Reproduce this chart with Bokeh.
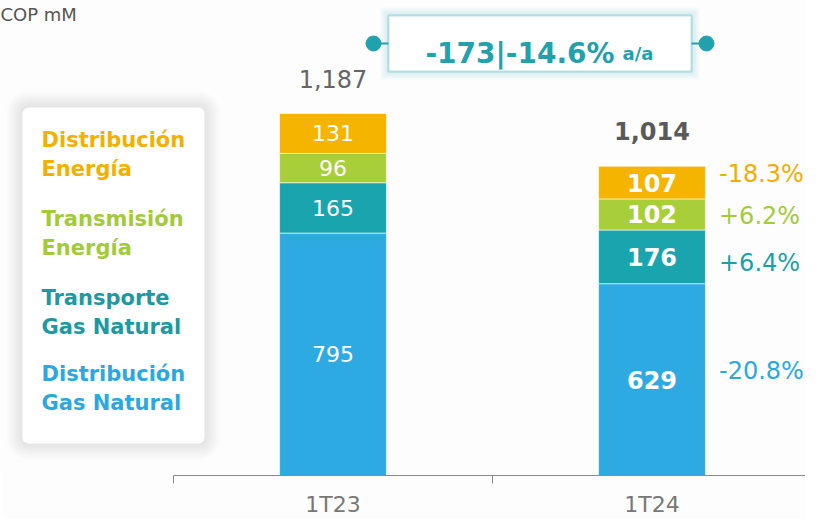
from bokeh.plotting import figure
from bokeh.models import ColumnDataSource, Range1d, FixedTicker, BoxAnnotation
from bokeh.core.properties import value
from bokeh.embed import file_html
from bokeh.resources import INLINE

# ---------------- data ----------------
periods = ["1T23", "1T24"]
# stacking order: bottom -> top
series_keys = ["dist_gas", "transp_gas", "trans_energia", "dist_energia"]
series_labels = ["Distribución\nGas Natural", "Transporte\nGas Natural",
                 "Transmisión\nEnergía", "Distribución\nEnergía"]
dist_gas = [795, 629]
transp_gas = [165, 176]
trans_energia = [96, 102]
dist_energia = [131, 107]
pct_change = ["-20.8%", "+6.4%", "+6.2%", "-18.3%"]   # 1T24 vs 1T23, per series
unit_label = "COP mM"
yoy_suffix = "a/a"

# ---------------- styles ----------------
bar_colors = ["#2EAAE2", "#1AA4AE", "#A8CF39", "#F5B400"]
legend_colors = ["#2BA8DF", "#1E98A1", "#A3CB38", "#F2B000"]
pct_colors = ["#2BA8DF", "#1BA0A9", "#A3CB38", "#F2AE00"]
TEAL = "#21A1AB"
FONT = value("DejaVu Sans")
BAR_W = 0.335

W, FH = 805, 475            # figure width, frame height (px)
# pixel <-> data helpers for decorations (figure pixel coordinates)
X0, PXX = 173.0, 319.0      # x=0 at px 173, 319 px per category
Y0, PXY = 475.0, 0.30497    # y=0 at px 475
def dx(px): return (px - X0) / PXX
def dy(py): return (Y0 - py) / PXY

data = dict(dist_gas=dist_gas, transp_gas=transp_gas,
            trans_energia=trans_energia, dist_energia=dist_energia)
x_pos = [i + 0.5 for i in range(len(periods))]
src = ColumnDataSource(dict(x=x_pos, **data))

p = figure(frame_width=W, frame_height=FH,
           x_range=Range1d(dx(0), dx(W)), y_range=Range1d(0, dy(0)),
           output_backend="svg", toolbar_location=None, y_axis_location=None,
           min_border=0, min_border_bottom=36,
           background_fill_color="#FDFDFD", border_fill_color="#FDFDFD",
           outline_line_color=None)
p.xgrid.visible = False
p.ygrid.visible = False

# ---------------- bars ----------------
p.vbar_stack(series_keys, x="x", width=BAR_W, color=bar_colors, source=src,
             line_color="white", line_alpha=0.6, line_width=1)

# segment labels
totals = [sum(data[k][i] for k in series_keys) for i in range(len(periods))]
mids = []
for i in range(len(periods)):
    cum = 0
    m = []
    for k in series_keys:
        v = data[k][i]
        m.append(cum + v / 2)
        cum += v
    mids.append(m)

for i, (fs, style) in enumerate([("22px", "normal"), ("24px", "bold")]):
    p.text(x=[x_pos[i]] * len(series_keys), y=mids[i],
           text=[str(data[k][i]) for k in series_keys],
           text_align="center", text_baseline="middle", text_color="white",
           text_font=FONT, text_font_size=fs, text_font_style=style)

# totals
for i, (style, col) in enumerate([("normal", "#666666"), ("bold", "#5A5A5A")]):
    p.text(x=[x_pos[i]], y=[totals[i]], text=[f"{totals[i]:,}"], y_offset=-35,
           text_align="center", text_baseline="middle", text_color=col,
           text_font=FONT, text_font_size="24px", text_font_style=style)

# percentage changes to the right of last bar
pct_offsets = [-9, 6, 1.5, -9]
pct_src = ColumnDataSource(dict(x=[x_pos[-1]] * len(series_keys), y=mids[-1],
                                t=pct_change, c=pct_colors, yo=pct_offsets))
p.text(x="x", y="y", text="t", source=pct_src, text_color="c", x_offset=67,
       y_offset="yo", text_align="left", text_baseline="middle",
       text_font=FONT, text_font_size="24px")

# ---------------- axis ----------------
ax = p.xaxis[0]
ax.ticker = FixedTicker(ticks=x_pos, minor_ticks=list(range(len(periods) + 1)))
ax.major_label_overrides = {x: lab for x, lab in zip(x_pos, periods)}
ax.bounds = (0, len(periods))
ax.axis_line_color = "#8A8A8A"
ax.minor_tick_line_color = "#8A8A8A"
ax.minor_tick_out = 8
ax.minor_tick_in = 0
ax.major_tick_line_color = None
ax.major_tick_out = 0
ax.major_tick_in = 0
ax.major_label_standoff = 8
ax.major_label_text_font = "DejaVu Sans"
ax.major_label_text_font_size = "22px"
ax.major_label_text_color = "#777777"

# ---------------- legend box ----------------
L, R, T, B = 22, 204, 107, 443
for i in range(1, 9):
    e = i * 2
    p.add_layout(BoxAnnotation(left=dx(L - e), right=dx(R + e), top=dy(T - e),
                               bottom=dy(B + e), fill_color="black", fill_alpha=0.011,
                               line_color=None, border_radius=6 + e, level="underlay"))
p.add_layout(BoxAnnotation(left=dx(L), right=dx(R), top=dy(T), bottom=dy(B),
                           fill_color="white", fill_alpha=1, line_color=None,
                           border_radius=6, level="underlay"))
entry_top = [373, 297, 218, 139]   # first-line centre (px) per series
lx, ly, lt, lc = [], [], [], []
for lab, col, top in zip(series_labels, legend_colors, entry_top):
    for j, line in enumerate(lab.split("\n")):
        lx.append(dx(41)); ly.append(dy(top + 29 * j)); lt.append(line); lc.append(col)
p.text(x="x", y="y", text="t", text_color="c",
       source=ColumnDataSource(dict(x=lx, y=ly, t=lt, c=lc)),
       text_align="left", text_baseline="middle", text_font=FONT,
       text_font_size="21px", text_font_style="bold")

# unit label
p.text(x=[dx(0)], y=[dy(14)], text=[unit_label], text_align="left",
       text_baseline="middle", text_color="#555555", text_font=FONT,
       text_font_size="18px")

# ---------------- YoY callout ----------------
delta = totals[-1] - totals[0]
pct = delta / totals[0] * 100
BL, BR, BT, BB = 388, 691, 15, 71
for i in range(1, 5):
    e = i * 2
    p.add_layout(BoxAnnotation(left=dx(BL - e), right=dx(BR + e), top=dy(BT - e),
                               bottom=dy(BB + e), fill_color=TEAL, fill_alpha=0.04,
                               line_color=None, level="underlay"))
p.add_layout(BoxAnnotation(left=dx(BL), right=dx(BR), top=dy(BT), bottom=dy(BB),
                           fill_color="white", fill_alpha=1, line_color=TEAL,
                           line_width=2, level="underlay"))
p.segment(x0=[dx(373), dx(BR)], x1=[dx(BL), dx(706)], y0=[dy(43)] * 2, y1=[dy(43)] * 2,
          line_color=TEAL, line_width=2)
p.scatter(x=[dx(373), dx(706)], y=[dy(43)] * 2, size=15, color=TEAL)
p.text(x=[dx(425)], y=[dy(53)], text=[f"{delta:,}|{pct:.1f}%"], text_align="left",
       text_baseline="alphabetic", text_color=TEAL, text_font=FONT,
       text_font_size="28px", text_font_style="bold")
p.text(x=[dx(622)], y=[dy(53)], text=[yoy_suffix], text_align="left",
       text_baseline="alphabetic", text_color=TEAL, text_font=FONT,
       text_font_size="18px", text_font_style="bold")

open("out.html", "w").write(file_html(p, INLINE))
